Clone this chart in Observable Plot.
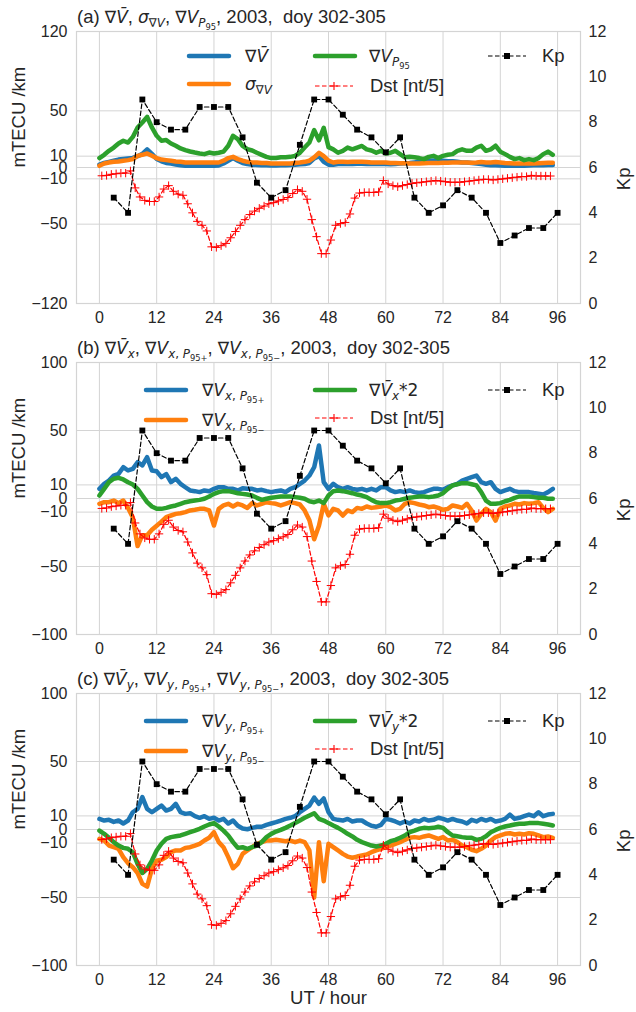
<!DOCTYPE html>
<html>
<head>
<meta charset="utf-8">
<script src="https://cdn.jsdelivr.net/npm/d3@7"></script>
<script src="https://cdn.jsdelivr.net/npm/@observablehq/plot@0.6"></script>
<style>
  html, body { margin: 0; padding: 0; background: #fff; }
  body { width: 636px; height: 1012px; overflow: hidden; font-family: "Liberation Sans", Arial, sans-serif; color: #262626; }
  .panel { position: relative; width: 636px; }
  .panel svg { display: block; }
  .title { position: absolute; left: 77px; font-size: 18.5px; white-space: pre; line-height: 1; transform: translateY(-50%); }
  .lab { position: absolute; font-size: 18.5px; white-space: pre; line-height: 1; transform: translateY(-50%); }
  .sw { position: absolute; transform: translateY(-50%); display: block; }
  .m { font-family: "DejaVu Sans", sans-serif; font-size: 0.92em; }
  .s { font-size: 0.7em; position: relative; top: 0.35em; }
  .s .s { top: 0.3em; }
</style>
</head>
<body>
<div id="fig"></div>
<script>
// Hourly samples, UT hours 0..95 (2003, doy 302-305)
const hours = d3.range(0, 96);

// Panel (a): mean gradient, its spread and 95th percentile (mTECU/km)
const gradMean = [
  2.6, 4, 5, 6, 7, 7.5, 8, 8.5, 10, 12, 16, 12,
  7.5, 5.5, 4, 3.5, 2.6, 2, 1.5, 1.5, 1.5, 1.5, 1.5, 1.5,
  1.5, 1.8, 3.5, 6, 8.3, 6, 4, 3, 2.5, 2.2, 2, 2,
  1.8, 1.8, 2, 2, 2.2, 2.5, 2.8, 3, 4, 8, 10, 5,
  2.5, 2.5, 3, 3, 3, 3, 3.2, 3.2, 3, 3, 3, 3,
  3, 2.8, 3, 3.5, 3.8, 4, 4.5, 5, 5.5, 6, 6.2, 6,
  6, 5.5, 5.5, 5, 4.5, 4.5, 4, 3.5, 3, 2.5, 2, 2,
  1.8, 1.5, 1.5, 1.5, 1.5, 1.5, 1.8, 2, 2, 2, 2.2, 2.2
];
const gradSigma = [
  1.5, 3.5, 4.4, 5, 5.3, 6, 6.5, 7.4, 10.3, 11.2, 12.4, 10.3,
  8.3, 7, 6.5, 6, 5.3, 5, 4.4, 4.4, 4.4, 4.4, 4.4, 4.4,
  4.4, 4.4, 6, 8.3, 9.4, 7.4, 6, 5, 4.4, 4.4, 4, 4,
  3.5, 3.5, 3.5, 3.5, 3.5, 4, 4.4, 5, 6, 9, 13, 10,
  6, 4.4, 5, 5, 4.8, 5, 5, 5, 4.8, 4.5, 4.5, 4.5,
  4.4, 4, 4, 3.8, 3.8, 3.5, 3.5, 3.5, 3.8, 4, 4, 4,
  4.2, 4.2, 4.4, 4.4, 4.4, 4.4, 4.2, 4.4, 4.8, 4.4, 4.4, 4.8,
  4.4, 4, 3.8, 3.5, 3.5, 3.5, 3.5, 3.5, 3.8, 4, 4.2, 4.2
];
const gradP95 = [
  8.3, 11.2, 14.7, 17.6, 21.2, 23.6, 22, 27, 35.3, 39.7, 44.7, 35.3,
  28, 23.6, 24.2, 21.2, 19.2, 16.8, 15.3, 14.1, 13.2, 12.4, 11.8, 13.2,
  12.4, 13, 14, 19.2, 28, 25, 19, 16.2, 15, 13, 11.2, 9.4,
  8.3, 8.3, 9, 9, 9.4, 10.3, 13, 17.6, 22, 33, 24, 35,
  18, 16, 13, 14.7, 17.6, 16, 17.6, 19, 16, 15, 13, 14.7,
  12.4, 13, 14.7, 11.8, 9, 9.4, 9, 8.3, 7.4, 9.4, 10.3, 8.3,
  10.3, 11.2, 11.8, 14.7, 16, 14.7, 14.7, 17.6, 19.2, 14.7, 16, 19.2,
  14, 11.8, 9.4, 7.4, 8.3, 6.5, 7.4, 6.5, 8.3, 11.8, 14, 11.2
];

// Panel (b): x (east-west) component
const gradXP95plus = [
  7.1, 10.8, 13.2, 16.9, 18.1, 23, 20.6, 21.8, 26.7, 24.3, 30.4, 20.6,
  20, 15.7, 18, 12, 14.5, 10.8, 8.3, 5.9, 5.4, 4.7, 5.9, 5.4,
  7.1, 8.3, 8.3, 7.1, 7.1, 5.9, 7.6, 7.1, 7.1, 5.9, 6.4, 5.4,
  4.7, 5.4, 5.9, 4.7, 7.1, 8.3, 10.8, 13.2, 16.9, 23, 39, 12,
  7.1, 10.8, 8.3, 7.1, 8.3, 7.1, 6.4, 7.1, 5.9, 7.1, 5.9, 8.3,
  8.3, 5.9, 4.7, 5.4, 4.7, 5.9, 4.7, 4, 4.7, 5.9, 7.1, 7.1,
  6.4, 8.3, 9.6, 10.8, 13.2, 14.5, 15.7, 16.9, 12, 10.8, 12, 7.1,
  4.7, 5.9, 7.1, 5.4, 4.7, 4.7, 4.7, 4, 3.5, 3, 4.7, 7.1
];
const gradXP95minus = [
  -3.9, -2.7, -2.7, -1.5, -3.4, -1.5, -6.9, -14, -35, -27, -27, -23,
  -20, -17, -13.7, -12.5, -11.3, -10.8, -10, -8.8, -8.3, -7.6, -7.6, -8.8,
  -19.9, -7.6, -5.1, -3.9, -5.9, -3.9, -5.1, -6.9, -3.4, -5.1, -3.9, -2.7,
  -3.4, -3.9, -5.1, -3.9, -2.7, -3.4, -4.4, -8.8, -16, -30, -20, -4,
  -12.5, -7.6, -8.8, -12.5, -8.8, -10, -6.9, -7.6, -5.9, -6.9, -6.4, -5.9,
  -5.1, -6.4, -8.8, -7.6, -3.9, -2.7, -3.4, -4.4, -5.1, -6.4, -5.9, -6.9,
  -8.3, -7.6, -5.1, -5.9, -6.9, -3.9, -8.8, -16.2, -11.3, -7.6, -10, -16.2,
  -7.6, -5.9, -5.1, -3.9, -4.4, -3.4, -3.9, -3.4, -2.7, -6.9, -10, -7.6
];
const gradXMeanTimes2 = [
  2.2, 7.1, 12, 14.5, 15.2, 14, 12, 10.3, 7.1, 2.2, -2.7, -5.9,
  -7.6, -7.6, -6.9, -5.9, -5.1, -3.9, -2.7, -2, -1.5, -1, -0.2, 1.5,
  3.4, 4.7, 5.4, 5.4, 4.7, 3.9, 3.4, 2.9, 2.2, 0.5, -1, -0.2,
  0.5, 1, 1.5, 1.5, 1.5, 1, 0.5, -0.2, -2, -2.7, -1.5, -3.4,
  2.2, 5.4, 5.9, 5.4, 4.7, 3.9, 2.9, 2.2, 1, -1, -2.7, -3.4,
  -3.4, -2.7, -1.5, -1, -0.2, 0.5, 1, 1.5, 1.5, 1, 1.5, 2.2,
  3.9, 7.1, 9.6, 10.5, 11.3, 11.3, 10.5, 9.6, 4.7, -1.5, -3.9, -3.9,
  -3.4, -2, -1, 0.5, 1.5, 1.5, 1.5, 1, 0.5, 0.5, -0.2, -0.2
];

// Panel (c): y (north-south) component
const gradYP95plus = [
  7.8, 6.6, 7.1, 5.6, 6.6, 4.4, 6.6, 12.7, 15.2, 23.8, 15.2, 12.7,
  15.2, 17.6, 13.9, 15.2, 18.9, 12.7, 11.5, 12, 9.8, 8.6, 9.8, 7.8,
  8.6, 6.6, 7.8, 4.4, 6.6, 2.7, 0.7, 0.2, 1.2, 2, 2, 3.4,
  4.4, 5.4, 6.6, 7.8, 8.6, 9.8, 12.7, 15.2, 17.6, 23.5, 18.9, 22.8,
  12.7, 7.8, 7.1, 6.6, 7.8, 5.9, 6.6, 6.6, 4.4, 2.7, 2, 3.4,
  7.8, 7.1, 5.9, 4.4, 5.9, 4.4, 6.6, 5.9, 7.8, 6.6, 7.1, 8.6,
  7.8, 6.6, 7.8, 6.6, 5.9, 4.4, 7.1, 5.9, 7.8, 6.6, 7.8, 5.9,
  6.6, 7.8, 11, 7.8, 8.6, 9.8, 11, 9.8, 12.7, 9.8, 11, 11.5
];
const gradYP95minus = [
  -6.9, -8.1, -11.8, -13, -14.2, -20.3, -24.8, -27.7, -32, -40, -42, -29,
  -23, -22.3, -20.3, -16.7, -15.4, -15.4, -13.5, -13, -11.8, -10.5, -8.1, -6.1,
  -2, -9.3, -13, -20.3, -28.5, -25.3, -17.9, -15.4, -13, -10.5, -9.3, -8.1,
  -8.1, -7.6, -8.1, -8.6, -8.1, -9.3, -8.1, -9.3, -15.4, -50, -9.3, -38,
  -10.5, -13, -15.4, -17.9, -19.9, -20.8, -19.9, -19.1, -18.4, -16.7, -15.4, -14.2,
  -13, -11.8, -10.5, -9.3, -7.6, -6.1, -5.6, -6.1, -5.1, -4.4, -5.6, -6.9,
  -5.6, -8.1, -7.6, -9.3, -11.8, -13, -14.9, -15.9, -14.2, -11.8, -8.1, -5.6,
  -4.4, -3.2, -2.7, -3.7, -3.2, -3.7, -2.7, -3.2, -4.4, -5.6, -5.1, -6.1
];
const gradYMeanTimes2 = [
  -0.8, -3.2, -6.1, -9.3, -11.8, -13.5, -14.2, -16.7, -25.3, -32, -28.9, -22.8,
  -15.4, -10.5, -6.9, -5.6, -5, -4.4, -3.2, -2, -0.8, 0.5, 2.2, 3.7,
  4.7, 2.2, -0.8, -4.4, -9.3, -13.5, -13, -14.2, -13, -11.8, -9.3, -5.6,
  -3.2, -1.5, -0.3, 1.2, 2.9, 4.7, 6.6, 8.6, 10.3, 12, 7.8, 6.6,
  4.7, 2.9, 1.2, -0.8, -3.2, -5.1, -7.6, -9.3, -10.5, -11.8, -12.5, -11.8,
  -10.5, -8.6, -7.6, -6.1, -4.4, -2, -0.8, 0.5, 1.2, 1, 1.2, 2,
  1.2, -2, -4.4, -5, -5.6, -6.1, -6.1, -7.6, -6.9, -5, -2, -0.3,
  1.2, 2.2, 2.9, 3.7, 4.2, 4.2, 4.7, 4.7, 4.7, 4.2, 3.7, 2.9
];

// Geomagnetic indices: Kp every 3 h, Dst/5 hourly (plotted mid-hour)
const kpHours = d3.range(3, 97, 3);
const kpIndex = [
  4.67, 4, 9, 8, 7.67, 7.67, 8.67, 8.67, 8.67, 7.33, 5.33, 4.67,
  5, 7, 9, 9, 8.33, 7.67, 7.33, 6.67, 7.33, 4.67, 4, 4.33,
  5, 4.67, 4, 2.67, 3, 3.33, 3.33, 4
];
const dstHours = d3.range(0.5, 95, 1);
const dstOver5 = [
  -7.3, -7, -6, -5.5, -5, -5, -3, -18, -26, -29, -30, -30,
  -26, -19, -16, -21, -23.5, -24.5, -32, -40, -47.5, -51, -56, -70,
  -70.5, -69, -67, -62, -56.5, -51, -46, -41.5, -38.5, -36, -34, -32,
  -31, -29.5, -28.2, -26.5, -23, -19.5, -21, -28, -46, -61, -76, -76,
  -64, -51, -49.5, -48.5, -41, -27, -22.5, -22, -22, -22, -21.5, -11.5,
  -14.5, -16, -17, -16, -15, -14, -13.5, -13, -12.5, -12, -11.5, -12,
  -12.5, -13, -13, -13, -12.5, -12, -11.5, -11, -10.5, -10.5, -11, -10.5,
  -10, -9.5, -9, -8.5, -8, -8, -7, -7.5, -7.5, -7.5, -7.5
];

const xTicks = [0, 12, 24, 36, 48, 60, 72, 84, 96];
const kpTicks = [0, 2, 4, 6, 8, 10, 12];

const blue = "#1f77b4", orange = "#ff7f0e", green = "#2ca02c";
const gridColor = "#d4d4d4";
const fontFamily = '"Liberation Sans", Arial, sans-serif';

// small HTML helpers for math-style labels
const m = t => `<span class="m">${t}</span>`;
const s = t => `<span class="s">${t}</span>`;
const nabla = "\u2207";
const Vbar = "<i>V\u0304</i>";
const V = "<i>V</i>";

function lineSwatch(color) {
  return `<svg width="46" height="14"><line x1="3" y1="7" x2="43" y2="7" stroke="${color}" stroke-width="4.5" stroke-linecap="round"/></svg>`;
}
function kpSwatch() {
  return `<svg width="40" height="14"><line x1="1" y1="7" x2="39" y2="7" stroke="black" stroke-width="1.2" stroke-dasharray="4.5,2.5"/><rect x="17" y="4" width="6" height="6" fill="black"/></svg>`;
}
function dstSwatch() {
  return `<svg width="40" height="14"><line x1="1" y1="7" x2="39" y2="7" stroke="red" stroke-width="1.2" stroke-dasharray="4.5,2.5"/><path d="M16,7H24M20,3V11" stroke="red" stroke-width="1.1"/></svg>`;
}

const panels = [
  {
    height: 331,
    yDomain: [-120, 120],
    yTicks: [-120, -50, -10, 0, 10, 50, 120],
    series: [
      {values: gradMean, color: blue},
      {values: gradSigma, color: orange},
      {values: gradP95, color: green}
    ],
    title: `(a) ${m(nabla + Vbar)}, ${m("<i>\u03c3</i>" + s(nabla + V))}, ${m(nabla + V + s("<i>P</i>" + s("95")))}, 2003,  doy 302-305`,
    legend: [
      {sw: lineSwatch(blue), sx: 186, tx: 245, y: 56, label: m(nabla + Vbar)},
      {sw: lineSwatch(orange), sx: 186, tx: 245, y: 84, label: m("<i>\u03c3</i>" + s(nabla + V))},
      {sw: lineSwatch(green), sx: 312, tx: 369, y: 56, label: m(nabla + V + s("<i>P</i>" + s("95")))},
      {sw: dstSwatch(), sx: 314, tx: 370, y: 86, label: "Dst [nt/5]"},
      {sw: kpSwatch(), sx: 487, tx: 542, y: 56, label: "Kp"}
    ]
  },
  {
    height: 331,
    yDomain: [-100, 100],
    yTicks: [-100, -50, -10, 0, 10, 50, 100],
    series: [
      {values: gradXP95plus, color: blue},
      {values: gradXP95minus, color: orange},
      {values: gradXMeanTimes2, color: green}
    ],
    title: `(b) ${m(nabla + Vbar + s("<i>x</i>"))}, ${m(nabla + V + s("<i>x</i>, <i>P</i>" + s("95+")))}, ${m(nabla + V + s("<i>x</i>, <i>P</i>" + s("95\u2212")))}, 2003,  doy 302-305`,
    legend: [
      {sw: lineSwatch(blue), sx: 143, tx: 202, y: 59, label: m(nabla + V + s("<i>x</i>, <i>P</i>" + s("95+")))},
      {sw: lineSwatch(orange), sx: 143, tx: 202, y: 89, label: m(nabla + V + s("<i>x</i>, <i>P</i>" + s("95\u2212")))},
      {sw: lineSwatch(green), sx: 312, tx: 369, y: 59, label: m(nabla + Vbar + s("<i>x</i>") + "*2")},
      {sw: dstSwatch(), sx: 314, tx: 370, y: 87, label: "Dst [nt/5]"},
      {sw: kpSwatch(), sx: 487, tx: 542, y: 59, label: "Kp"}
    ]
  },
  {
    height: 350,
    yDomain: [-100, 100],
    yTicks: [-100, -50, -10, 0, 10, 50, 100],
    series: [
      {values: gradYP95plus, color: blue},
      {values: gradYP95minus, color: orange},
      {values: gradYMeanTimes2, color: green}
    ],
    title: `(c) ${m(nabla + Vbar + s("<i>y</i>"))}, ${m(nabla + V + s("<i>y</i>, <i>P</i>" + s("95+")))}, ${m(nabla + V + s("<i>y</i>, <i>P</i>" + s("95\u2212")))}, 2003,  doy 302-305`,
    legend: [
      {sw: lineSwatch(blue), sx: 143, tx: 202, y: 59, label: m(nabla + V + s("<i>y</i>, <i>P</i>" + s("95+")))},
      {sw: lineSwatch(orange), sx: 143, tx: 202, y: 89, label: m(nabla + V + s("<i>y</i>, <i>P</i>" + s("95\u2212")))},
      {sw: lineSwatch(green), sx: 312, tx: 369, y: 59, label: m(nabla + Vbar + s("<i>y</i>") + "*2")},
      {sw: dstSwatch(), sx: 314, tx: 370, y: 87, label: "Dst [nt/5]"},
      {sw: kpSwatch(), sx: 487, tx: 542, y: 59, label: "Kp"}
    ],
    xLabel: "UT / hour"
  }
];

const minusFormat = d => d < 0 ? "\u2212" + Math.abs(d) : String(d);

function drawPanel(cfg) {
  const [lo, hi] = cfg.yDomain;
  // Kp (0..12) shares the frame with the left axis through a linear map
  const kpToY = k => lo + (hi - lo) * k / 12;
  const yToKp = v => (v - lo) * 12 / (hi - lo);

  const seriesMarks = cfg.series.map(sr =>
    Plot.line(hours, {
      x: d => d, y: (d, i) => sr.values[i],
      stroke: sr.color, strokeWidth: 4.5, strokeLinejoin: "round", strokeLinecap: "round"
    })
  );

  const marks = [
    Plot.gridX(xTicks, {stroke: gridColor, strokeOpacity: 1, strokeWidth: 1}),
    Plot.gridY(cfg.yTicks, {stroke: gridColor, strokeOpacity: 1, strokeWidth: 1}),
    Plot.frame({stroke: gridColor, strokeWidth: 1.2}),
    Plot.axisX(xTicks, {tickSize: 0, tickPadding: 8, fontSize: 16, label: null}),
    Plot.axisY(cfg.yTicks, {anchor: "left", tickSize: 0, tickPadding: 9, fontSize: 16, tickFormat: minusFormat, label: null}),
    Plot.axisY(kpTicks.map(kpToY), {anchor: "right", tickSize: 0, tickPadding: 8, fontSize: 16, tickFormat: v => String(Math.round(yToKp(v))), label: null}),
    Plot.text(["mTECU /km"], {frameAnchor: "left", rotate: -90, dx: -57, fontSize: 18.5}),
    Plot.text(["Kp"], {frameAnchor: "right", rotate: -90, dx: 44, fontSize: 18.5}),
    ...seriesMarks,
    Plot.line(dstHours, {x: d => d, y: (d, i) => dstOver5[i], stroke: "red", strokeWidth: 1.2, strokeDasharray: "4.5,2.5"}),
    Plot.dot(dstHours, {x: d => d, y: (d, i) => dstOver5[i], symbol: "plus", r: 2.8, stroke: "red", strokeWidth: 1}),
    Plot.line(kpHours, {x: d => d, y: (d, i) => kpToY(kpIndex[i]), stroke: "black", strokeWidth: 1.2, strokeDasharray: "4.5,2.5"}),
    Plot.dot(kpHours, {x: d => d, y: (d, i) => kpToY(kpIndex[i]), symbol: "square", r: 3.3, fill: "black", stroke: "none"})
  ];
  if (cfg.xLabel) {
    marks.push(Plot.text([cfg.xLabel], {frameAnchor: "bottom", dy: 25, lineAnchor: "top", fontSize: 18.5}));
  }

  const chart = Plot.plot({
    width: 636,
    height: cfg.height,
    marginLeft: 76,
    marginRight: 56,
    marginTop: 31,
    marginBottom: cfg.height - 31 - 272,
    x: {domain: [-4.8, 100.8]},
    y: {domain: cfg.yDomain},
    style: {fontFamily, color: "#262626", background: "white", overflow: "visible"},
    marks
  });

  const wrap = document.createElement("div");
  wrap.className = "panel";
  wrap.style.height = cfg.height + "px";
  wrap.appendChild(chart);

  const title = document.createElement("div");
  title.className = "title";
  title.style.top = "17px";
  title.innerHTML = cfg.title;
  wrap.appendChild(title);

  for (const item of cfg.legend) {
    const sw = document.createElement("div");
    sw.className = "sw";
    sw.style.left = item.sx + "px";
    sw.style.top = item.y + "px";
    sw.innerHTML = item.sw;
    wrap.appendChild(sw);
    const lab = document.createElement("div");
    lab.className = "lab";
    lab.style.left = item.tx + "px";
    lab.style.top = item.y + "px";
    lab.innerHTML = item.label;
    wrap.appendChild(lab);
  }
  return wrap;
}

const fig = document.getElementById("fig");
for (const p of panels) fig.appendChild(drawPanel(p));
</script>
</body>
</html>
